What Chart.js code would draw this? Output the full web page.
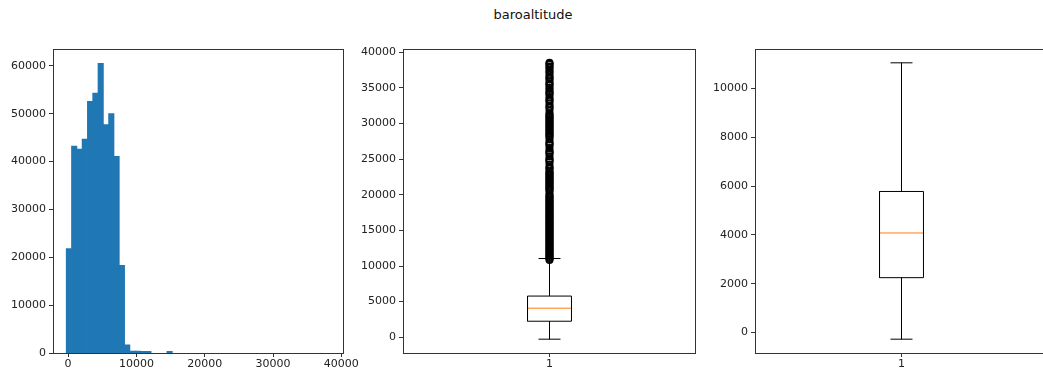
<!DOCTYPE html>
<html>
<head>
<meta charset="utf-8">
<script src="https://cdn.jsdelivr.net/npm/chart.js@4/dist/chart.umd.min.js"></script>
<style>
  html, body { margin: 0; padding: 0; background: #fff; overflow: hidden; }
  #wrap { position: relative; width: 1043px; height: 373px; overflow: hidden; }
  canvas { position: absolute; top: 0; }
  #title { position: absolute; left: 433px; width: 200px; top: 7px; text-align: center;
           font: 13px "DejaVu Sans", sans-serif; color: #111; line-height: 15px; }
</style>
</head>
<body>
<div id="wrap">
  <div id="title">baroaltitude</div>
  <canvas id="c1" width="360" height="373" style="left:0px"></canvas>
  <canvas id="c2" width="361" height="373" style="left:350px"></canvas>
  <canvas id="c3" width="346" height="373" style="left:702px"></canvas>
</div>
<script>
// ---- Data ----
const histBinStart = -270;
const histBinWidth = 775.8;
const histCounts = [21800, 43200, 42600, 44700, 52600, 54300, 60500, 47700, 50000, 41100,
                    18300, 1700, 400, 380, 340, 330, 0, 0, 0, 350,
                    0, 0, 0, 0, 0, 0, 0, 0, 0, 0,
                    0, 0, 0, 0, 0, 0, 0, 0, 0, 0,
                    0, 0, 0, 0, 0, 0, 0, 0, 0, 0];
const histXTicks = [0, 10000, 20000, 30000, 40000];
const histYTicks = [0, 10000, 20000, 30000, 40000, 50000, 60000];

const boxStats = { low: -270, q1: 2250, median: 4080, q3: 5780, high: 11050 };
const outliers = [
  10850,10990,11120,11270,11400,11560,11700,11830,11990,12130,12280,12420,12560,12710,12850,
  13000,13140,13290,13430,13580,13720,13870,14010,14160,14300,14450,14590,14740,14880,15030,
  15170,15320,15460,15610,15750,15900,16040,16190,16330,16480,16620,16770,16910,17060,17200,
  17350,17490,17640,17780,17930,18070,18220,18360,18510,18650,18800,18940,19090,19230,19380,
  19520,19670,19810,19960,20260,20560,20700,20850,20990,21140,21280,21430,21570,21720,21860,
  22010,22150,22300,22440,22590,22730,22880,23020,23170,23300,
  23600,23760,23900,24240,24600,24760,24900,25050,25400,25740,25900,26050,26200,26580,
  26920,27080,27240,27400,27740,28060,28220,28380,28540,28700,28860,29020,29180,29340,
  29500,29660,29820,29980,30140,30300,30460,30620,30780,30940,31100,31260,31420,31810,
  32160,32320,32480,32800,33120,33280,33440,33740,34060,34220,34380,34540,34860,35020,
  35350,35500,35650,35930,36230,36400,36560,36860,37150,37300,37570,37860,38000,38270,38400,38520
];
const boxXTicks = [1];
const boxMidYTicks = [0, 5000, 10000, 15000, 20000, 25000, 30000, 35000, 40000];
const boxRightYTicks = [0, 2000, 4000, 6000, 8000, 10000];

// ---- Styles / layout ----
const FONT = { family: "'DejaVu Sans', sans-serif", size: 11 };
const TXT = '#222';
const AXC = '#333';
const BOX_W = 0.15, CAP_W = 0.075;

const framePlugin = {
  id: 'frame',
  afterDatasetsDraw(chart) {
    const a = chart.chartArea, ctx = chart.ctx;
    ctx.save();
    ctx.strokeStyle = AXC; ctx.lineWidth = 1;
    ctx.strokeRect(Math.round(a.left) + 0.5, Math.round(a.top) + 0.5,
                   Math.round(a.right - a.left) - 1, Math.round(a.bottom - a.top));
    ctx.restore();
  }
};

function fmt(v) { return String(v); }

function axis(min, max, ticks, pos, fitSize) {
  return {
    type: 'linear', position: pos, min: min, max: max, offset: false,
    afterBuildTicks: s => { s.ticks = ticks.map(v => ({ value: v })); },
    afterFit: s => { if (pos === 'left') s.width = fitSize; else s.height = fitSize; },
    grid: { offset: false, drawOnChartArea: false, drawTicks: true, tickLength: 4, color: AXC, lineWidth: 1 },
    border: { display: false },
    ticks: { font: FONT, color: TXT, padding: pos === 'left' ? 3 : 1, callback: fmt,
             maxRotation: 0, autoSkip: false }
  };
}

const baseOpts = (padRight) => ({
  responsive: false, animation: false, devicePixelRatio: 1, events: [],
  layout: { padding: { top: 49, right: padRight, left: 0, bottom: 0 } },
  plugins: { legend: { display: false }, tooltip: { enabled: false }, title: { display: false } }
});

// ---- Histogram ----
const histData = histCounts.map((c, i) => ({ x: histBinStart + histBinWidth * (i + 0.5), y: c }));
new Chart(document.getElementById('c1'), {
  type: 'bar',
  data: { datasets: [{ data: histData, backgroundColor: '#1f77b4', borderWidth: 0,
                       inflateAmount: (ctx) => (ctx.raw && ctx.raw.y > 0 ? 0.4 : 0),
                       barPercentage: 1.0, categoryPercentage: 1.0 }] },
  options: Object.assign(baseOpts(15), {
    scales: {
      x: axis(-2210, 40460, histXTicks, 'bottom', 20),
      y: axis(0, 63525, histYTicks, 'left', 53)
    }
  }),
  plugins: [framePlugin]
});

// ---- Boxplots ----
function boxDatasets(st, flierVals) {
  const L = 1 - BOX_W / 2, R = 1 + BOX_W / 2, cl = 1 - CAP_W / 2, cr = 1 + CAP_W / 2;
  const line = (pts, color) => ({ type: 'line', data: pts, borderColor: color, borderWidth: 1,
                                  pointRadius: 0, fill: false, tension: 0, showLine: true });
  const ds = [
    line([{x:L,y:st.q1},{x:R,y:st.q1},{x:R,y:st.q3},{x:L,y:st.q3},{x:L,y:st.q1}], '#000'),
    line([{x:1,y:st.q1},{x:1,y:st.low}], '#000'),
    line([{x:1,y:st.q3},{x:1,y:st.high}], '#000'),
    line([{x:cl,y:st.low},{x:cr,y:st.low}], '#000'),
    line([{x:cl,y:st.high},{x:cr,y:st.high}], '#000'),
    line([{x:L,y:st.median},{x:R,y:st.median}], '#ff7f0e')
  ];
  if (flierVals) {
    ds.push({ type: 'scatter', data: flierVals.map(v => ({ x: 1, y: v })),
              pointRadius: 3.3, pointBorderWidth: 1.4, pointBorderColor: '#000',
              pointBackgroundColor: 'rgba(0,0,0,0)', showLine: false });
  }
  return ds;
}

new Chart(document.getElementById('c2'), {
  type: 'scatter',
  data: { datasets: boxDatasets(boxStats, outliers) },
  options: Object.assign(baseOpts(15), {
    scales: {
      x: axis(0.5, 1.5, boxXTicks, 'bottom', 20),
      y: axis(-2210, 40460, boxMidYTicks, 'left', 53)
    }
  }),
  plugins: [framePlugin]
});

new Chart(document.getElementById('c3'), {
  type: 'scatter',
  data: { datasets: boxDatasets(boxStats, null) },
  options: Object.assign(baseOpts(0), {
    scales: {
      x: axis(0.5, 1.5, boxXTicks, 'bottom', 20),
      y: axis(-836, 11616, boxRightYTicks, 'left', 53)
    }
  }),
  plugins: [framePlugin]
});
</script>
</body>
</html>
